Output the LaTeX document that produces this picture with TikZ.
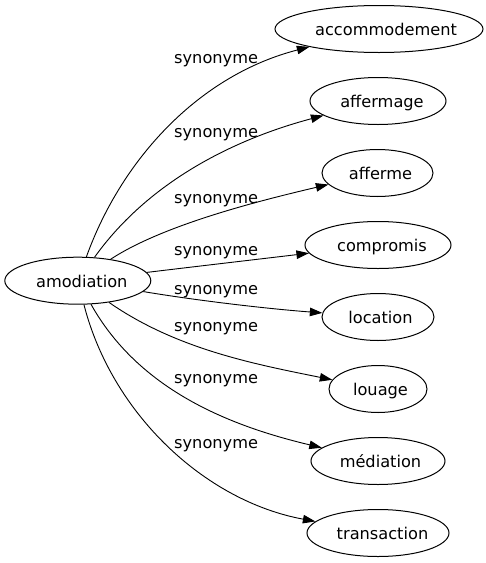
\documentclass[tikz,border=0pt]{standalone}
\usepackage{fontspec}
\setmainfont{DejaVu Sans}
\usetikzlibrary{shapes.geometric,arrows.meta}
\begin{document}
\begin{tikzpicture}[x=1pt,y=-1pt,
  ent/.style={draw, ellipse, line width=1pt, inner sep=0pt, minimum height=47pt},
  word/.style={font=\fontsize{16.2pt}{19pt}\selectfont, text height=16pt, text depth=3pt, inner sep=0pt},
  rel/.style={font=\fontsize{16.2pt}{19pt}\selectfont, inner sep=0pt, anchor=base west},
  edge/.style={line width=0.9pt, -{Triangle[length=12.5pt,width=8.5pt]}}
]
\useasboundingbox (0,0) rectangle (486,563);

\node[ent, minimum width=146pt, label={[word, xshift=4pt]center:amodiation}] (a) at (77.8,280.7) {};
\node[ent, minimum width=208pt, label={[word, xshift=7pt]center:accommodement}] (b1) at (379,29) {};
\node[ent, minimum width=136pt, label={[word, xshift=4pt]center:affermage}] (b2) at (378,101) {};
\node[ent, minimum width=111pt, label={[word, xshift=3pt]center:afferme}] (b3) at (377.5,173) {};
\node[ent, minimum width=146pt, label={[word, xshift=4pt]center:compromis}] (b4) at (378,245) {};
\node[ent, minimum width=112pt, label={[word, xshift=2.5pt]center:location}] (b5) at (378,317) {};
\node[ent, minimum width=98pt, label={[word, xshift=2.5pt]center:louage}] (b6) at (378,389) {};
\node[ent, minimum width=134pt, label={[word, xshift=2.5pt]center:médiation}] (b7) at (378,461) {};
\node[ent, minimum width=142pt, label={[word, xshift=4.5pt]center:transaction}] (b8) at (378,533) {};

\node[rel] (l1) at (174,63) {synonyme};
\node[rel] (l2) at (174,137) {synonyme};
\node[rel] (l3) at (174,203) {synonyme};
\node[rel] (l4) at (174,255) {synonyme};
\node[rel] (l5) at (174,294) {synonyme};
\node[rel] (l6) at (174,331) {synonyme};
\node[rel] (l7) at (174,383) {synonyme};
\node[rel] (l8) at (174,448) {synonyme};

\draw[edge] (a) .. controls (122,158) and (200,75) .. (b1);
\draw[edge] (a) .. controls (149,181) and (235,139) .. (b2);
\draw[edge] (a) .. controls (163,225) and (258,201) .. (b3);
\draw[edge] (a) .. controls (200,266) and (260,259) .. (b4);
\draw[edge] (a) .. controls (200,301) and (270,309) .. (b5);
\draw[edge] (a) .. controls (176,349) and (254,364) .. (b6);
\draw[edge] (a) .. controls (139,390) and (230,426) .. (b7);
\draw[edge] (a) .. controls (112,414) and (205,501) .. (b8);
\end{tikzpicture}
\end{document}
